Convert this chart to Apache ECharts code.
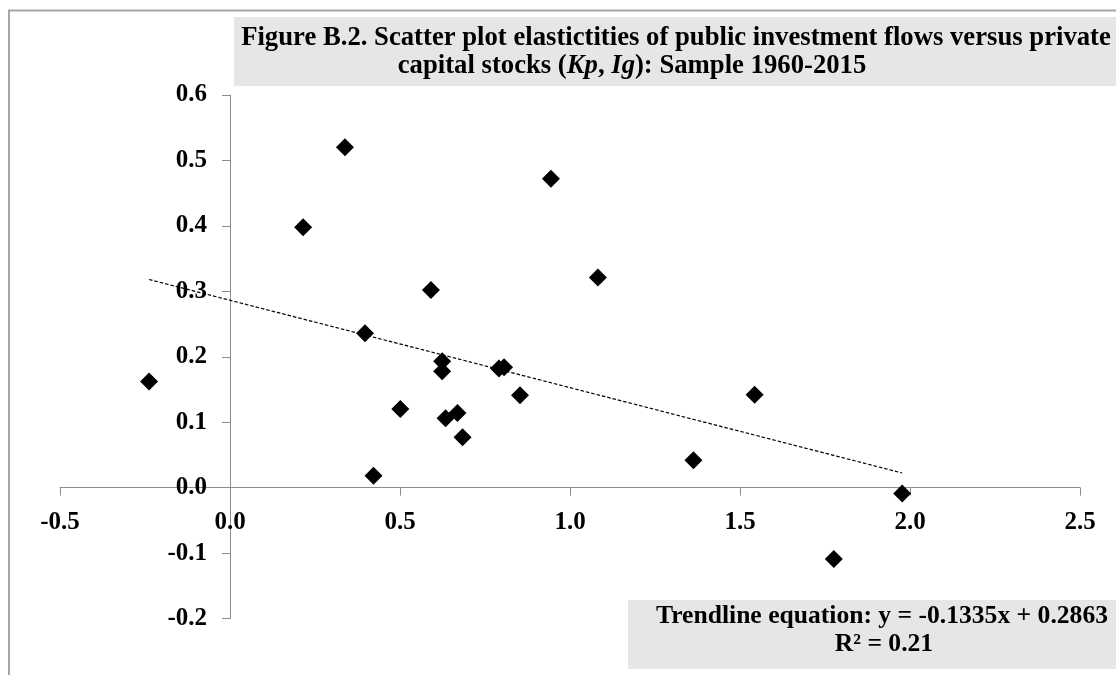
<!DOCTYPE html>
<html>
<head>
<meta charset="utf-8">
<title>Figure B.2</title>
<script src="https://cdn.jsdelivr.net/npm/echarts@6/dist/echarts.min.js"></script>
<style>
  html, body { margin: 0; padding: 0; background: #ffffff; }
  #chart { width: 1116px; height: 675px; }
</style>
</head>
<body>
<div id="chart"></div>
<script>
// Elasticities: private capital stocks (x) vs public investment flows (y)
const kpValues = [-0.238, 0.215, 0.338, 0.397, 0.422, 0.501, 0.591, 0.624, 0.624, 0.634, 0.669,
                  0.684, 0.791, 0.806, 0.853, 0.944, 1.082, 1.363, 1.543, 1.776, 1.977];
const igValues = [0.162, 0.398, 0.520, 0.236, 0.018, 0.120, 0.302, 0.193, 0.178, 0.106, 0.114,
                  0.077, 0.182, 0.184, 0.141, 0.472, 0.321, 0.042, 0.142, -0.109, -0.009];

// Linear trendline coefficients
const trendSlope = -0.1335;
const trendIntercept = 0.2863;
const rSquared = 0.21;

const titleLine1 = 'Figure B.2. Scatter plot elastictities of public investment flows versus private';
const titleLine2 = 'capital stocks ({it|Kp}, {it|Ig}): Sample 1960-2015';

const FONT = '"Liberation Serif", "Times New Roman", serif';
const points = kpValues.map((x, i) => [x, igValues[i]]);
const xMin = Math.min(...kpValues);
const xMax = Math.max(...kpValues);
const trendPoints = [xMin, xMax].map(x => [x, trendSlope * x + trendIntercept]);

// plot area and axis ranges
const GRID = { left: 60, right: 36, top: 95, bottom: 56.5 };
const X_RANGE = [-0.5, 2.5];
const Y_RANGE = [-0.2, 0.6];
const W = 1116, H = 675;
const plotW = W - GRID.left - GRID.right;
const plotH = H - GRID.top - GRID.bottom;
// axes cross at the origin: shift each axis (with its labels) from the grid edge to zero
const xAxisShift = -plotH * (0 - Y_RANGE[0]) / (Y_RANGE[1] - Y_RANGE[0]);
const yAxisShift = -plotW * (0 - X_RANGE[0]) / (X_RANGE[1] - X_RANGE[0]);

const chart = echarts.init(document.getElementById('chart'), null, { renderer: 'canvas' });

const axisCommon = {
  type: 'value',
  axisLine: { show: true, onZero: false, lineStyle: { color: '#8c8c8c', width: 1 } },
  axisTick: { show: true, length: 8, lineStyle: { color: '#8c8c8c', width: 1 } },
  splitLine: { show: false },
  axisLabel: {
    color: '#000', fontFamily: FONT, fontWeight: 'bold', fontSize: 25,
    formatter: v => v.toFixed(1)
  }
};

chart.setOption({
  animation: false,
  backgroundColor: '#ffffff',
  grid: Object.assign({ containLabel: false }, GRID),
  xAxis: Object.assign({}, axisCommon, {
    position: 'bottom', offset: xAxisShift,
    min: X_RANGE[0], max: X_RANGE[1], interval: 0.5,
    axisLabel: Object.assign({}, axisCommon.axisLabel, { margin: 22 })
  }),
  yAxis: Object.assign({}, axisCommon, {
    position: 'left', offset: yAxisShift,
    min: Y_RANGE[0], max: Y_RANGE[1], interval: 0.1,
    axisLabel: Object.assign({}, axisCommon.axisLabel, { margin: 23 })
  }),
  series: [
    {
      type: 'line',
      data: trendPoints,
      symbol: 'none',
      silent: true,
      z: 1,
      lineStyle: { color: '#000', width: 1.2, type: [3.5, 2] }
    },
    {
      type: 'scatter',
      data: points,
      symbol: 'diamond',
      symbolSize: 18,
      z: 2,
      itemStyle: { color: '#000', opacity: 1 }
    }
  ],
  graphic: [
    // outer chart frame
    {
      type: 'rect', z: 0, silent: true,
      shape: { x: 9, y: 10.5, width: 1200, height: 800 },
      style: { fill: 'none', stroke: '#a6a6a6', lineWidth: 2 }
    },
    // title box
    {
      type: 'rect', z: 10, silent: true,
      shape: { x: 234, y: 17, width: 1000, height: 69 },
      style: { fill: '#e6e6e6' }
    },
    {
      type: 'text', z: 11, silent: true,
      style: {
        x: 676, y: 38, text: titleLine1,
        font: 'bold 26.7px ' + FONT, fill: '#000',
        align: 'center', verticalAlign: 'middle',
        textAlign: 'center', textVerticalAlign: 'middle'
      }
    },
    {
      type: 'text', z: 11, silent: true,
      style: {
        x: 632, y: 66, text: titleLine2,
        font: 'bold 26.7px ' + FONT, fill: '#000',
        align: 'center', verticalAlign: 'middle',
        textAlign: 'center', textVerticalAlign: 'middle',
        rich: {
          it: { fontFamily: FONT, fontSize: 26.7, fontWeight: 'bold', fontStyle: 'italic', fill: '#000' }
        }
      }
    },
    // trendline equation box
    {
      type: 'rect', z: 10, silent: true,
      shape: { x: 628, y: 600, width: 600, height: 69 },
      style: { fill: '#e6e6e6' }
    },
    {
      type: 'text', z: 11, silent: true,
      style: {
        x: 882, y: 616,
        text: 'Trendline equation: y = ' + trendSlope.toFixed(4) + 'x + ' + trendIntercept.toFixed(4),
        font: 'bold 25.6px ' + FONT, fill: '#000',
        align: 'center', verticalAlign: 'middle',
        textAlign: 'center', textVerticalAlign: 'middle'
      }
    },
    {
      type: 'text', z: 11, silent: true,
      style: {
        x: 884, y: 644,
        text: 'R² = ' + rSquared.toFixed(2),
        font: 'bold 25.6px ' + FONT, fill: '#000',
        align: 'center', verticalAlign: 'middle',
        textAlign: 'center', textVerticalAlign: 'middle'
      }
    }
  ]
});
</script>
</body>
</html>
